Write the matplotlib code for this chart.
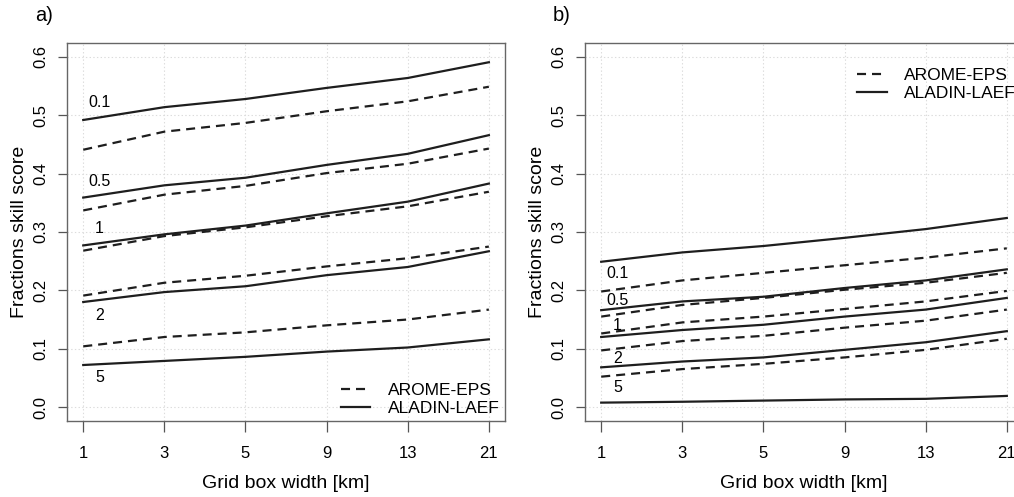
import matplotlib
matplotlib.use("Agg")
import matplotlib.pyplot as plt
import numpy as np

plt.rcParams['font.family'] = ['Liberation Sans', 'DejaVu Sans']
plt.rcParams['lines.scale_dashes'] = False

# grid box widths (km), plotted at equal spacing
widths = ["1", "3", "5", "9", "13", "21"]
thresholds = ["0.1", "0.5", "1", "2", "5"]

# panel a) fractions skill score
a_arome = [
    [0.441, 0.472, 0.487, 0.507, 0.524, 0.549],
    [0.337, 0.364, 0.379, 0.401, 0.417, 0.443],
    [0.268, 0.293, 0.308, 0.327, 0.344, 0.369],
    [0.191, 0.213, 0.225, 0.241, 0.255, 0.275],
    [0.104, 0.120, 0.128, 0.140, 0.150, 0.167],
]
a_aladin = [
    [0.492, 0.514, 0.528, 0.547, 0.564, 0.591],
    [0.359, 0.380, 0.393, 0.415, 0.434, 0.466],
    [0.277, 0.296, 0.311, 0.332, 0.352, 0.383],
    [0.180, 0.197, 0.207, 0.226, 0.240, 0.267],
    [0.072, 0.079, 0.086, 0.095, 0.102, 0.116],
]
a_label_y = [0.522, 0.387, 0.306, 0.157, 0.050]

# panel b)
b_arome = [
    [0.198, 0.217, 0.230, 0.243, 0.256, 0.272],
    [0.155, 0.175, 0.187, 0.201, 0.213, 0.230],
    [0.126, 0.145, 0.155, 0.168, 0.181, 0.199],
    [0.097, 0.113, 0.122, 0.136, 0.148, 0.167],
    [0.052, 0.065, 0.074, 0.085, 0.098, 0.117],
]
b_aladin = [
    [0.249, 0.265, 0.276, 0.290, 0.305, 0.324],
    [0.166, 0.181, 0.189, 0.204, 0.217, 0.236],
    [0.120, 0.132, 0.141, 0.155, 0.167, 0.187],
    [0.068, 0.078, 0.085, 0.098, 0.111, 0.130],
    [0.0075, 0.009, 0.011, 0.013, 0.014, 0.019],
]
b_label_y = [0.229, 0.182, 0.139, 0.084, 0.033]

line_col = '#1e1e1e'
dash = (0, (6.5, 4.3))

fig = plt.figure(figsize=(10.14, 4.97), dpi=100)
ax_a = fig.add_axes([0.0661, 0.1529, 0.432, 0.7606])
ax_b = fig.add_axes([0.5769, 0.1529, 0.432, 0.7606])

def draw_panel(ax, arome, aladin, label_y, tag, legend_loc, legend_anchor):
    x = np.arange(len(widths))
    for i in range(len(thresholds)):
        ax.plot(x, arome[i], color=line_col, lw=1.6, linestyle=dash)
        ax.plot(x, aladin[i], color=line_col, lw=1.6)
        ax.text(0.2, label_y[i], thresholds[i], fontsize=11.5, ha='center', va='center')
    ax.set_xlim(-0.2, 5.2)
    ax.set_ylim(-0.024, 0.624)
    ax.set_xticks(x)
    ax.set_xticklabels(widths, fontsize=12)
    ax.set_yticks(np.arange(0, 0.61, 0.1))
    ax.set_yticklabels(["%.1f" % v for v in np.arange(0, 0.61, 0.1)],
                       fontsize=12, rotation=90, va='center')
    ax.tick_params(axis='x', length=8, width=0.9, color='#555555', pad=10)
    ax.tick_params(axis='y', length=6.5, width=0.9, color='#555555', pad=7)
    ax.grid(True, color='#dcdcdc', linestyle=':', lw=0.8)
    for s in ax.spines.values():
        s.set_color('#666666')
        s.set_linewidth(1.0)
    ax.set_xlabel("Grid box width [km]", fontsize=14, labelpad=10)
    ax.set_ylabel("Fractions skill score", fontsize=14, labelpad=4)
    ax.text(-0.073, 1.074, tag, transform=ax.transAxes, fontsize=14.5,
            ha='left', va='center')
    h1, = ax.plot([], [], color=line_col, lw=1.6, linestyle=dash)
    h2, = ax.plot([], [], color=line_col, lw=1.6)
    ax.legend([h1, h2], ["AROME-EPS", "ALADIN-LAEF"], loc=legend_loc,
              bbox_to_anchor=legend_anchor, frameon=False, fontsize=12.5,
              handlelength=1.7, handletextpad=1.0, labelspacing=0.2,
              borderpad=0, borderaxespad=0)

draw_panel(ax_a, a_arome, a_aladin, a_label_y, "a)", 'lower left', (0.625, 0.012))
draw_panel(ax_b, b_arome, b_aladin, b_label_y, "b)", 'upper left', (0.622, 0.935))

fig.savefig("out.png", dpi=100)
